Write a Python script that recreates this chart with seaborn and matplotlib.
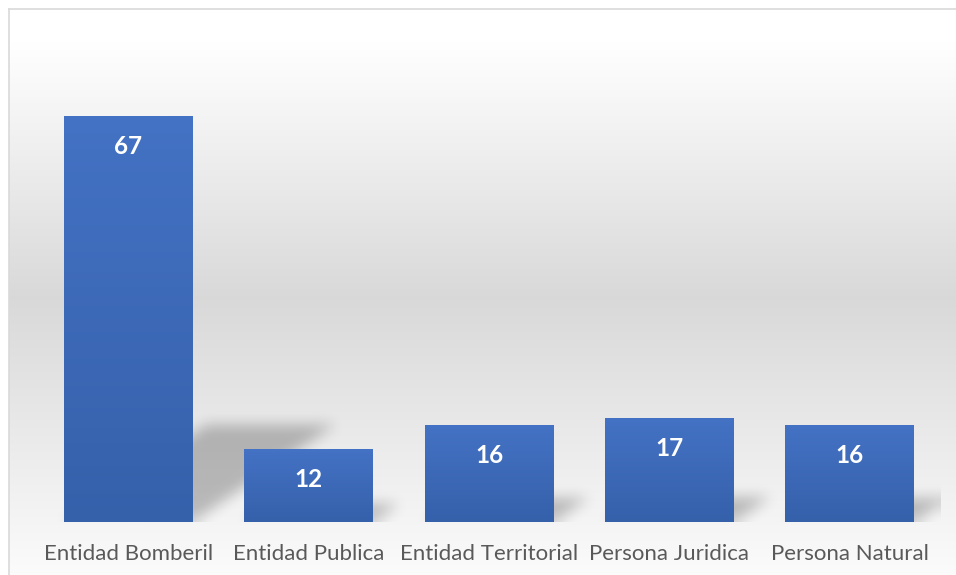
import numpy as np
import pandas as pd
import seaborn as sns
import matplotlib.pyplot as plt
from matplotlib.path import Path
from matplotlib.colors import LinearSegmentedColormap

categorias = ["Entidad Bomberil", "Entidad Publica", "Entidad Territorial",
              "Persona Juridica", "Persona Natural"]
valores = [67, 12, 16, 17, 16]

df = pd.DataFrame({"categoria": categorias, "valor": valores})

sns.set_theme(style="white")
plt.rcParams['font.family'] = ['Lato', 'DejaVu Sans']

W, H = 956, 575
fig = plt.figure(figsize=(W / 100, H / 100), dpi=100)
fig.patch.set_facecolor("white")

# fondo degradado del area del grafico (blanco - gris - blanco)
bg = fig.add_axes([9 / W, 0, 1 - 9 / W, 1 - 9 / H])
rows = np.linspace(0, 1, 600)
g = np.interp(rows, [0, 0.06, 0.51, 1.0], [1.0, 1.0, 0.85, 0.985])
grad = np.repeat(g[:, None, None], 3, axis=2).repeat(2, axis=1)
bg.imshow(grad, aspect="auto", extent=[0, 1, 0, 1], origin="upper",
          interpolation="bilinear")
bg.set_xlim(0, 1)
bg.set_ylim(0, 1)
bg.set_xticks([])
bg.set_yticks([])
for s in ["top", "left"]:
    bg.spines[s].set_color("#d9d9d9")
    bg.spines[s].set_linewidth(1.2)
for s in ["right", "bottom"]:
    bg.spines[s].set_visible(False)

# ejes principales
y_bot = 522
y_top = 20
ax = fig.add_axes([38 / W, (H - y_bot) / H, 902 / W, (y_bot - y_top) / H])
ax.patch.set_alpha(0)
px_unit = (y_bot - 116) / 67
ymax = (y_bot - y_top) / px_unit

sns.barplot(data=df, x="categoria", y="valor", color="#4472c4",
            width=0.715, saturation=1, linewidth=0, ax=ax, zorder=3)
ax.set_xlim(-0.5, 4.5)
ax.set_ylim(0, ymax)

# sombras en perspectiva
nx, ny = 900, 500
xs = np.linspace(-0.5, 4.5, nx)
ys = np.linspace(0, ymax, ny)
XX, YY = np.meshgrid(xs, ys)
pts = np.column_stack([XX.ravel(), YY.ravel()])
mask = np.zeros(nx * ny)
for bar in ax.patches:
    x0 = bar.get_x()
    x1 = x0 + bar.get_width()
    h = bar.get_height()
    sx = 0.0118 * h
    sh = 0.24 * h
    poly = Path([(x0, 0), (x1, 0), (x1 + sx, sh), (x0 + sx, sh)])
    mask[poly.contains_points(pts)] = 1
mask = mask.reshape(ny, nx)


def box_blur(a, r, axis):
    pad = [(0, 0), (0, 0)]
    pad[axis] = (r + 1, r)
    b = np.pad(a, pad, mode="edge")
    c = np.cumsum(b, axis=axis)
    if axis == 0:
        return (c[2 * r + 1:] - c[:-2 * r - 1]) / (2 * r + 1)
    return (c[:, 2 * r + 1:] - c[:, :-2 * r - 1]) / (2 * r + 1)


for _ in range(3):
    mask = box_blur(mask, 6, 0)
    mask = box_blur(mask, 6, 1)

shadow = np.zeros((ny, nx, 4))
shadow[..., 3] = mask * 0.24
ax.imshow(shadow, extent=[-0.5, 4.5, 0, ymax], origin="lower",
          aspect="auto", zorder=1, interpolation="bilinear")

# degradado de cada barra
cmap_bar = LinearSegmentedColormap.from_list("azul", ["#3560aa", "#4472c4"])
for bar in ax.patches:
    x0 = bar.get_x()
    x1 = x0 + bar.get_width()
    h = bar.get_height()
    ax.imshow(np.linspace(0, 1, 200)[:, None], cmap=cmap_bar,
              extent=[x0, x1, 0, h], origin="lower", aspect="auto",
              zorder=4, interpolation="bilinear")

for i, v in enumerate(valores):
    ax.text(i, v - 30 / px_unit, str(v), ha="center",
            va="center", color="white", fontsize=17.5, fontweight="bold",
            zorder=5)

ax.set_xlim(-0.5, 4.5)
ax.set_ylim(0, ymax)
ax.set_xlabel("")
ax.set_ylabel("")
ax.set_yticks([])
ax.tick_params(axis="x", length=0, pad=16, labelsize=16, labelcolor="#595959")
sns.despine(ax=ax, left=True, bottom=True)

fig.savefig("out.png", dpi=100)
